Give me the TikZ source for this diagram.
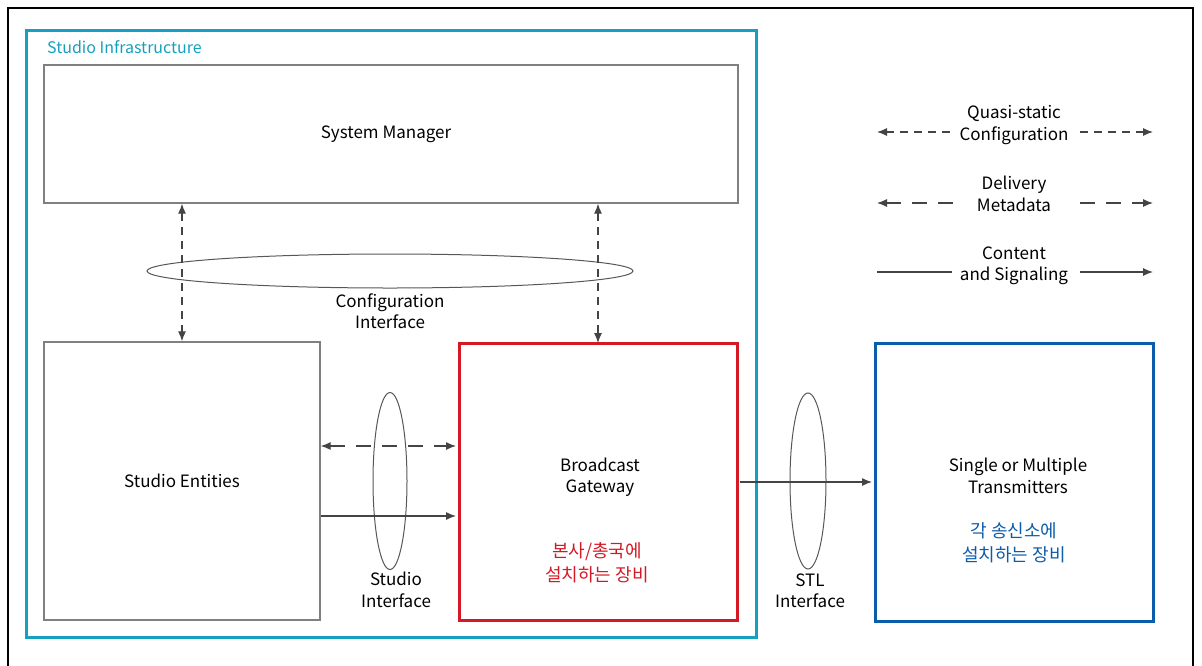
\documentclass[tikz,border=0pt]{standalone}
\usepackage{fontspec}
\setmainfont{Noto Sans CJK KR}
\usepackage{tikz}
\usetikzlibrary{shapes.geometric, arrows.meta, positioning, calc}
\definecolor{studiocyan}{RGB}{22, 160, 192}
\definecolor{gatewayred}{RGB}{212, 24, 36}
\definecolor{txblue}{RGB}{12, 92, 172}
\definecolor{boxgray}{RGB}{128, 128, 128}
\definecolor{linegray}{RGB}{68, 68, 68}

\begin{document}
\begin{tikzpicture}[x=1pt, y=-1pt,
    every node/.style={font=\fontsize{17}{21.5}\selectfont, align=center, inner sep=0pt},
    graybox/.style={draw=boxgray, line width=1.4pt, minimum width=#1},
    ring/.style={ellipse, draw=linegray!90, line width=1pt, inner sep=0pt},
    tip/.style={-{Latex[length=10pt, width=8pt]}},
    cfgline/.style={linegray, line width=1.1pt, dash pattern=on 8pt off 6pt, {Latex[length=10pt, width=8pt]}-{Latex[length=10pt, width=8pt]}},
    metaline/.style={linegray, line width=1.1pt, dash pattern=on 15pt off 11pt, {Latex[length=10pt, width=8pt]}-{Latex[length=10pt, width=8pt]}},
    sigline/.style={linegray, line width=1.1pt, tip}]
        \useasboundingbox (0,0) rectangle (1202,665);
        % Outer frame
        \draw[line width=1.2pt, black] (8,670) -- (8,8) -- (1193,8) -- (1193,670);
        
        % Studio infrastructure
        \node[draw=studiocyan, line width=3pt, minimum width=730pt, minimum height=607pt] (studio) at (391,333.5) {};
        \node[anchor=west, text=studiocyan, font=\fontsize{16}{20}\selectfont] (studiolbl) at (47,47) {Studio Infrastructure};
        
        % Boxes
        \node[graybox=694pt, minimum height=138pt] (sysmgr) at (391,134) {\hspace*{-10pt}System Manager};
        \node[graybox=276pt, minimum height=278pt] (entities) at (182,481) {Studio Entities};
        \node[draw=gatewayred, line width=3pt, minimum width=278pt, minimum height=277pt] (gw) at (598,481.5) {};
        \node (gwtext) at (600,477) {Broadcast\\Gateway};
        \node[text=gatewayred, font=\fontsize{18}{24}\selectfont] (gwkr) at (597,563) {본사/총국에\\설치하는 장비};
        \node[draw=txblue, line width=3pt, minimum width=278pt, minimum height=278pt] (tx) at (1014,482) {};
        \node (txtext) at (1018,476) {Single or Multiple\\Transmitters};
        \node[text=txblue, font=\fontsize{18}{24}\selectfont] (txkr) at (1014,543) {각 송신소에\\설치하는 장비};
        
        % Interface rings
        \node[ring, minimum width=486pt, minimum height=34pt] (cfgring) at (390,271) {};
        \node[ring, minimum width=34pt, minimum height=177pt] (studioring) at (390,481) {};
        \node[ring, minimum width=36pt, minimum height=176pt] (stlring) at (808,481) {};
        \node (cfglbl) at (390,311) {Configuration\\Interface};
        \node (studiolbl2) at (396,590) {Studio\\Interface};
        \node (stllbl) at (810,591) {STL\\Interface};
        
        % Connecting lines
        \draw[cfgline] (entities.north |- sysmgr.south) -- (entities.north);
        \draw[cfgline] (gw.north |- sysmgr.south) -- ([yshift=-1.5pt]gw.north);
        \draw[metaline] ([yshift=35pt]entities.east) -- ([yshift=35pt, xshift=-1.5pt]gw.west |- entities.east);
        \draw[sigline] ([yshift=-35pt]entities.east) -- ([yshift=-35pt, xshift=-1.5pt]gw.west |- entities.east);
        \draw[sigline] ([xshift=1.5pt]gw.east |- tx.west) -- ([xshift=-1.5pt]tx.west);
        
        % Legend
        \node (qslbl) at (1014,125) {Quasi-static\\Configuration};
        \node (dmlbl) at (1014,194) {Delivery\\Metadata};
        \node (cslbl) at (1014,266) {Content\\and Signaling};
        \coordinate (qsL) at (877,132);
        \coordinate (qsR) at (1153,132);
        \coordinate (dmL) at (877,203);
        \coordinate (dmR) at (1153,203);
        \coordinate (csL) at (877,272);
        \coordinate (csR) at (1153,272);
        \draw[cfgline, {Latex[length=10pt, width=8pt]}-] (qsL) -- (952,132);
        \draw[cfgline, -{Latex[length=10pt, width=8pt]}] (1080,132) -- (qsR);
        \draw[metaline, {Latex[length=10pt, width=8pt]}-] (dmL) -- (953,203);
        \draw[metaline, -{Latex[length=10pt, width=8pt]}] (1080,203) -- (dmR);
        \draw[linegray, line width=1.1pt] (csL) -- (952,272);
        \draw[sigline] (1080,272) -- (csR);
\end{tikzpicture}
\end{document}
